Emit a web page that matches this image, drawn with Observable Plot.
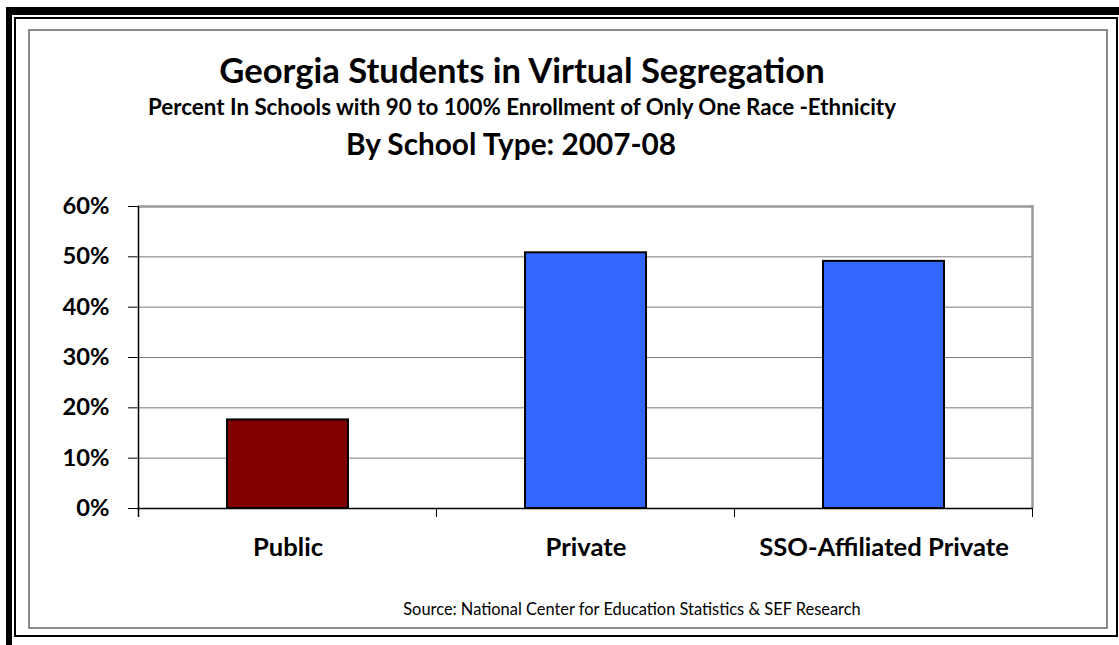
<!DOCTYPE html>
<html><head><meta charset="utf-8">
<script src="https://cdn.jsdelivr.net/npm/d3@7"></script>
<script src="https://cdn.jsdelivr.net/npm/@observablehq/plot@0.6"></script>
<style>
body{margin:0;background:#fff;}
#wrap{position:relative;width:1119px;height:645px;overflow:hidden;font-family:Lato,"Liberation Sans",sans-serif;background:#fff;}
.b{position:absolute;box-sizing:border-box;}
#chart{position:absolute;left:0;top:180px;}
#overlay{position:absolute;left:0;top:0;pointer-events:none;}
</style></head><body>
<div id="wrap">
  <div class="b" style="left:6px;top:7px;width:1113px;height:8px;background:#000"></div>
  <div class="b" style="left:6px;top:7px;width:6px;height:638px;background:#000"></div>
  <div class="b" style="left:14px;top:17px;width:1104px;height:620px;border:2.5px solid #000"></div>
  <div class="b" style="left:28px;top:29px;width:1080px;height:600px;border:2px solid #8a8a8a"></div>
  <div id="chart"></div>
  <svg id="overlay" width="1119" height="645"></svg>
</div>
<script>
// ---- data ----
const categories = ["Public", "Private", "SSO-Affiliated Private"];
const values = [17.6, 50.8, 49.1];
const barColors = ["#800000", "#3366FF", "#3366FF"];
const yTicks = [0, 10, 20, 30, 40, 50, 60];
const titleText = "Georgia Students in Virtual Segregation";
const subtitleText = "Percent In Schools with 90 to 100% Enrollment of Only One Race -Ethnicity";
const subtitle2Text = "By School Type: 2007-08";
const sourceText = "Source: National Center for Education Statistics & SEF Research";

const data = categories.map((c, i) => ({cat: c, value: values[i], color: barColors[i]}));

const FONT = "Lato";
const ctx = document.createElement("canvas").getContext("2d");
function fitSize(text, target, weight) {
  ctx.font = `${weight} 100px ${FONT}`;
  return 100 * target / ctx.measureText(text).width;
}

const xFs = fitSize("Public", 70, "bold");
const yFs = fitSize("60%", 47, "bold");

const H = 390, MB = 62;
const chart = Plot.plot({
  width: 1119,
  height: H,
  marginLeft: 137,
  marginRight: 86,
  marginTop: 26,
  marginBottom: MB,
  style: {fontFamily: FONT, background: "transparent", color: "#000"},
  x: {domain: categories, paddingInner: 0.595, paddingOuter: 0.2975, axis: null, label: null},
  y: {domain: [0, 60], axis: null, label: null},
  marks: [
    Plot.ruleY(yTicks.slice(1, -1), {stroke: "#7a7a7a", strokeWidth: 1}),
    Plot.ruleY([60], {stroke: "#999", strokeWidth: 2.5}),
    Plot.barY(data, {x: "cat", y: "value", fill: "color", stroke: "#000", strokeWidth: 2}),
    (index, scales, values, dims) => {
      const {x, y} = scales;
      const bw = x.bandwidth ? x.bandwidth() : 0;
      const step = x.step ? x.step() : (dims.width - dims.marginLeft - dims.marginRight) / categories.length;
      const off = (step - bw) / 2;
      const edges = categories.map(c => x(c) - off);
      edges.push(x(categories[categories.length - 1]) + bw + off);
      const y0 = y(0), y60 = y(60);
      const g = d3.create("svg:g");
      g.append("line").attr("x1", edges[edges.length - 1]).attr("x2", edges[edges.length - 1])
        .attr("y1", y60 - 1).attr("y2", y0).attr("stroke", "#999").attr("stroke-width", 2.5);
      edges.forEach(e => g.append("line").attr("x1", e).attr("x2", e)
        .attr("y1", y0).attr("y2", y0 + 9).attr("stroke", "#000").attr("stroke-width", 1));
      g.append("line").attr("x1", edges[0]).attr("x2", edges[0])
        .attr("y1", y60).attr("y2", y0 + 9).attr("stroke", "#000").attr("stroke-width", 1.5);
      return g.node();
    },
    Plot.ruleY([0], {stroke: "#000", strokeWidth: 1.5}),
    Plot.axisY({ticks: yTicks, tickSize: 9, tickPadding: 19, tickFormat: d => d + "%", label: null,
      fontSize: yFs, fontWeight: "bold", stroke: "#000", strokeWidth: 1}),
    Plot.axisX({tickSize: 0, tickPadding: 555 - 180 - 0.71 * xFs - (H - MB), label: null,
      fontSize: xFs, fontWeight: "bold"})
  ]
});
document.getElementById("chart").appendChild(chart);

// titles / caption
const ov = d3.select("#overlay");
function addText(text, cx, baseline, width, weight) {
  const fs = fitSize(text, width, weight);
  ov.append("text").attr("x", cx).attr("y", baseline).attr("text-anchor", "middle")
    .attr("font-family", FONT).attr("font-weight", weight).attr("font-size", fs)
    .attr("fill", "#000").text(text);
}
addText(titleText, 522, 83, 607, "bold");
addText(subtitleText, 522, 115, 750, "bold");
addText(subtitle2Text, 511, 155, 332, "bold");
addText(sourceText, 632, 615, 459, "normal");
</script>
</body></html>
